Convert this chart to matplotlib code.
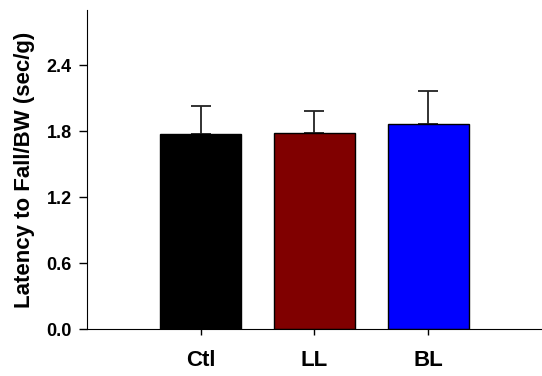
import matplotlib as mpl
mpl.use('Agg')
import matplotlib.pyplot as plt
import numpy as np

plt.rcParams['font.family'] = ['Liberation Sans', 'DejaVu Sans']
plt.rcParams['font.weight'] = 'bold'

groups = ['Ctl', 'LL', 'BL']
means = [1.775, 1.78, 1.864]
errors = [0.255, 0.205, 0.30]
colors = ['#000000', '#800000', '#0000ff']
yticks = [0.0, 0.6, 1.2, 1.8, 2.4]

fig = plt.figure(figsize=(5.42, 3.76), dpi=100)
ax = fig.add_axes([0.1605, 0.125, 0.8395, 0.848])

x = np.arange(len(groups))
ax.bar(x, means, width=0.71, color=colors, edgecolor='black', linewidth=1.0, zorder=2)
ax.errorbar(x, means, yerr=[np.zeros(len(errors)), errors], fmt='none',
            ecolor='#222222', elinewidth=1.3, capsize=7, capthick=1.3, zorder=1)

ax.set_xlim(-1.0, 3.0)
ax.set_ylim(0, 2.9)
ax.set_xticks(x)
ax.set_xticklabels(groups, fontsize=16, fontweight='bold')
ax.set_yticks(yticks)
ax.set_yticklabels(['%.1f' % v for v in yticks], fontsize=13, fontweight='bold')
ax.tick_params(axis='y', direction='out', length=6, width=1, pad=5)
ax.tick_params(axis='x', direction='out', length=4, width=1, pad=11)
ax.spines['top'].set_visible(False)
ax.spines['right'].set_visible(False)
ax.set_ylabel('Latency to Fall/BW (sec/g)', fontsize=16, fontweight='bold', labelpad=8)

plt.savefig('out.png', dpi=100)
plt.close()
